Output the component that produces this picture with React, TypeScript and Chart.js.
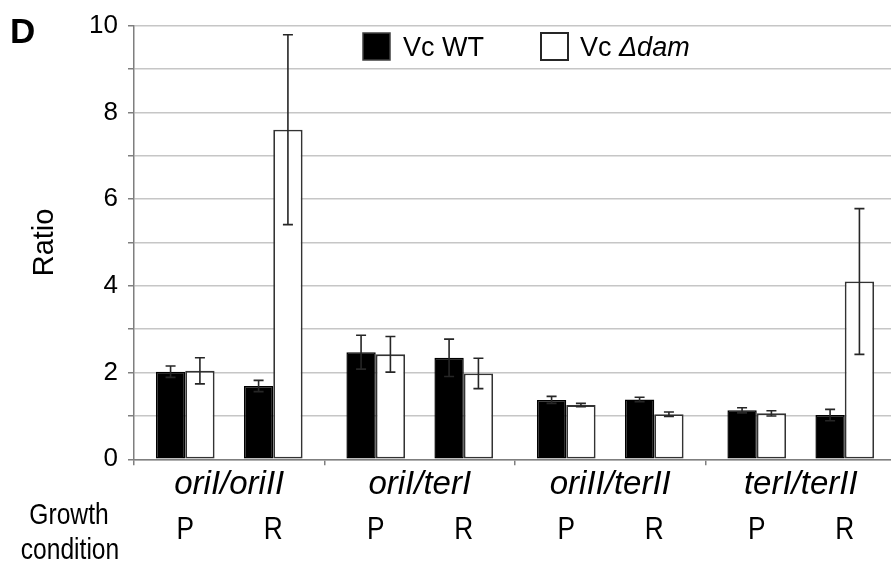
import { useEffect, useRef } from 'react';
import { Chart, registerables } from 'chart.js';

Chart.register(...registerables);

// ---- data ----
const groups = ['oriI/oriII', 'oriI/terI', 'oriII/terII', 'terI/terII'];
const conditions = ['P', 'R'];
// values in order: group1 P, group1 R, group2 P, group2 R, ...
const wtRatio = [2.02, 1.69, 2.47, 2.34, 1.37, 1.38, 1.13, 1.02];
const wtError = [0.13, 0.13, 0.39, 0.43, 0.08, 0.05, 0.06, 0.13];
const damRatio = [2.04, 7.6, 2.42, 1.98, 1.25, 1.04, 1.06, 4.1];
const damError = [0.3, 2.19, 0.41, 0.35, 0.04, 0.05, 0.06, 1.68];
const yMax = 10;

const FONT = "'Liberation Sans', Arial, sans-serif";

const pick = (arr: number[], c: number) => groups.map((_, g) => arr[g * conditions.length + c]);

// text drawn slightly condensed, like the narrow face of the original figure
const narrowText = (ctx: any, text: string, x: number, y: number, sx: number) => {
  ctx.save();
  ctx.translate(x, y);
  ctx.scale(sx, 1);
  ctx.fillText(text, 0, 0);
  ctx.restore();
};

const errorBars = {
  id: 'errorBars',
  afterDatasetsDraw(chart: any) {
    const ctx = chart.ctx;
    const y = chart.scales.y;
    chart.data.datasets.forEach((ds: any, di: number) => {
      if (!ds.errors) return;
      const meta = chart.getDatasetMeta(di);
      meta.data.forEach((bar: any, i: number) => {
        const v = ds.data[i];
        const e = ds.errors[i];
        if (v == null) return;
        const x = bar.x;
        const top = y.getPixelForValue(v + e);
        const bot = y.getPixelForValue(v - e);
        ctx.save();
        ctx.strokeStyle = '#262626';
        ctx.lineWidth = 1.6;
        ctx.beginPath();
        ctx.moveTo(x, top);
        ctx.lineTo(x, bot);
        ctx.moveTo(x - 5, top);
        ctx.lineTo(x + 5, top);
        ctx.moveTo(x - 5, bot);
        ctx.lineTo(x + 5, bot);
        ctx.stroke();
        ctx.restore();
      });
    });
  },
};

const extraText = {
  id: 'extraText',
  afterDraw(chart: any) {
    const ctx = chart.ctx;
    ctx.save();
    // panel letter
    ctx.fillStyle = '#000';
    ctx.font = `bold 35px ${FONT}`;
    ctx.textAlign = 'left';
    ctx.textBaseline = 'alphabetic';
    ctx.fillText('D', 10, 43);

    // legend
    ctx.fillStyle = '#000';
    ctx.fillRect(363, 33, 27, 27);
    ctx.lineWidth = 1.5;
    ctx.strokeStyle = '#404040';
    ctx.strokeRect(363, 33, 27, 27);
    ctx.font = `27px ${FONT}`;
    ctx.fillStyle = '#000';
    ctx.fillText('Vc WT', 403, 56);
    ctx.fillStyle = '#fff';
    ctx.fillRect(541, 33, 27, 27);
    ctx.lineWidth = 2;
    ctx.strokeStyle = '#262626';
    ctx.strokeRect(541, 33, 27, 27);
    ctx.fillStyle = '#000';
    ctx.font = `27px ${FONT}`;
    const pre = 'Vc ';
    ctx.fillText(pre, 580, 56);
    const w = ctx.measureText(pre).width;
    ctx.font = `italic 27px ${FONT}`;
    ctx.fillText('\u0394dam', 580 + w, 56);

    // growth condition labels
    ctx.font = `30px ${FONT}`;
    ctx.textAlign = 'center';
    narrowText(ctx, 'Growth', 69, 524, 0.82);
    narrowText(ctx, 'condition', 70, 559, 0.82);

    // P / R labels centred under each bar pair
    const metaP = [chart.getDatasetMeta(0), chart.getDatasetMeta(1)];
    const metaR = [chart.getDatasetMeta(3), chart.getDatasetMeta(4)];
    ctx.font = `32px ${FONT}`;
    groups.forEach((_, g) => {
      const xp = (metaP[0].data[g].x + metaP[1].data[g].x) / 2;
      const xr = (metaR[0].data[g].x + metaR[1].data[g].x) / 2;
      narrowText(ctx, conditions[0], xp, 539, 0.82);
      narrowText(ctx, conditions[1], xr, 539, 0.82);
    });
    ctx.restore();
  },
};

export default function App() {
  const ref = useRef<HTMLCanvasElement | null>(null);

  useEffect(() => {
    if (!ref.current) return;
    const black = { backgroundColor: '#000', borderColor: '#000', borderWidth: 1.5, borderSkipped: false };
    const white = { backgroundColor: '#fff', borderColor: '#333', borderWidth: 1.8, borderSkipped: false };
    const chart = new Chart(ref.current, {
      type: 'bar',
      data: {
        labels: groups,
        datasets: [
          { label: 'Vc WT P', data: pick(wtRatio, 0), errors: pick(wtError, 0), ...black } as any,
          { label: 'Vc \u0394dam P', data: pick(damRatio, 0), errors: pick(damError, 0), ...white } as any,
          { label: 'spacer', data: groups.map(() => null), backgroundColor: 'rgba(0,0,0,0)', borderWidth: 0 } as any,
          { label: 'Vc WT R', data: pick(wtRatio, 1), errors: pick(wtError, 1), ...black } as any,
          { label: 'Vc \u0394dam R', data: pick(damRatio, 1), errors: pick(damError, 1), ...white } as any,
        ],
      },
      options: {
        responsive: false,
        animation: false,
        devicePixelRatio: 1,
        layout: { padding: { top: 24, left: 0, right: 1, bottom: 0 } },
        datasets: { bar: { barPercentage: 1, categoryPercentage: 0.77 } },
        plugins: { legend: { display: false }, tooltip: { enabled: false } },
        scales: {
          x: {
            type: 'category',
            offset: true,
            grid: { display: true, drawOnChartArea: false, offset: true, tickLength: 6, color: '#7f7f7f', lineWidth: 1.5 },
            border: { display: true, color: '#7f7f7f', width: 1.5 },
            ticks: { color: '#000', font: { family: FONT, size: 33, style: 'italic' }, padding: 0, maxRotation: 0, autoSkip: false },
            afterFit: (scale: any) => {
              scale.height = 104.7;
            },
          },
          y: {
            type: 'linear',
            min: 0,
            max: yMax,
            ticks: {
              stepSize: 1,
              color: '#000',
              padding: 10,
              font: { family: FONT, size: 26 },
              callback: (v: any) => (Number(v) % 2 === 0 ? String(v) : ''),
            },
            grid: { color: '#c6c6c6', lineWidth: 1.5, tickLength: 6, tickColor: '#7f7f7f' },
            border: { display: true, color: '#7f7f7f', width: 1.5 },
            title: { display: true, text: 'Ratio', color: '#000', font: { family: FONT, size: 29 }, padding: { top: 28, bottom: 0 } },
            afterFit: (scale: any) => {
              scale.width = 134;
            },
          },
        },
      } as any,
      plugins: [errorBars, extraText],
    });
    return () => chart.destroy();
  }, []);

  return (
    <div style={{ position: 'fixed', left: 0, top: 0, width: 891, height: 564, overflow: 'hidden', background: '#fff' }}>
      <canvas ref={ref} width={897} height={564} style={{ width: 897, height: 564, display: 'block' }} />
    </div>
  );
}
